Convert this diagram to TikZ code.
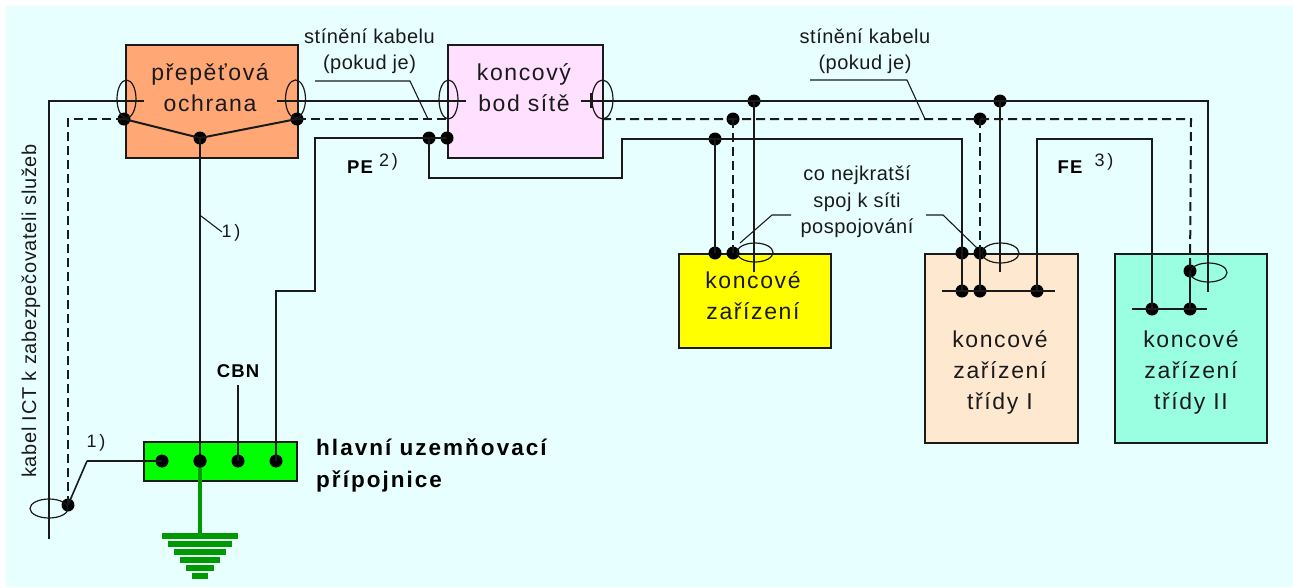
\documentclass[tikz,border=0pt]{standalone}
\usepackage{fontspec}
\setmainfont{Liberation Sans}
\newfontfamily\spfont[LetterSpace=7]{Liberation Sans}
\newfontfamily\smfont[LetterSpace=2.5]{Liberation Sans}
\newfontfamily\vtfont[LetterSpace=3.5]{Liberation Sans}
\newfontfamily\nofont[LetterSpace=15]{Liberation Sans}
\newfontfamily\boldsp[LetterSpace=6]{Liberation Sans Bold}
\newfontfamily\boldwd[LetterSpace=9]{Liberation Sans Bold}
\definecolor{bgc}{HTML}{E8FFFF}
\definecolor{ink}{HTML}{1A1A1A}
\definecolor{orangebox}{HTML}{FFA875}
\definecolor{pinkbox}{HTML}{FFE0FF}
\definecolor{peachbox}{HTML}{FFE8D0}
\definecolor{cyanbox}{HTML}{99FFE0}
\definecolor{yelbox}{RGB}{255,255,0}
\definecolor{grnbox}{RGB}{0,255,0}
\definecolor{gnd}{HTML}{009900}
\tikzset{
 x=1pt,y=-1pt,
 wire/.style={draw=ink,line width=2pt,line join=miter},
 dwire/.style={draw=ink,line width=2pt,dash pattern=on 9pt off 5pt},
 thin wire/.style={draw=ink,line width=1.1pt},
 dot/.style={circle,fill=black,draw=none,inner sep=0pt,minimum size=13pt},
 boxed/.style={draw=ink,line width=2pt,inner sep=0pt,anchor=north west},
 lbl/.style={font=\fontsize{23}{31}\selectfont\spfont,align=center,text=ink,inner sep=0pt},
 slbl/.style={font=\fontsize{20}{26.5}\selectfont\smfont,align=center,text=ink,inner sep=0pt},
 vlbl/.style={font=\fontsize{20}{26}\selectfont\vtfont,text=ink,inner sep=0pt},
 nlbl/.style={font=\fontsize{18}{24}\selectfont\nofont,text=ink,inner sep=0pt},
 blbl/.style={font=\fontsize{18.5}{26}\selectfont\boldsp,text=black,inner sep=0pt},
 bwlbl/.style={font=\fontsize{22.5}{32}\selectfont\boldwd,align=left,text=black,inner sep=0pt},
 shield/.style={draw=ink,line width=1.2pt},
}
\begin{document}
\begin{tikzpicture}
\useasboundingbox (0,0) rectangle (1293,587);
\fill[bgc] (6,6) rectangle (1293,587);
% boxes
\node[boxed,fill=orangebox,minimum width=172pt,minimum height=113pt] (sp) at (125,44) {};
\node[boxed,fill=pinkbox,minimum width=155pt,minimum height=113pt] (nt) at (447,44) {};
\node[boxed,fill=yelbox,minimum width=152pt,minimum height=94pt] (ee) at (678,253) {};
\node[boxed,fill=peachbox,minimum width=153pt,minimum height=189pt] (e1) at (924,253) {};
\node[boxed,fill=cyanbox,minimum width=152pt,minimum height=189pt] (e2) at (1114,253) {};
\node[boxed,fill=grnbox,minimum width=153pt,minimum height=39pt] (bar) at (143,441) {};
% ground
\foreach \yy/\hw in {536/38,543.5/32,551.5/26,559.5/20,567.5/14,575.5/8}{
  \fill[gnd] (200-\hw,\yy-3) rectangle (200+\hw,\yy+3);
}
% labels
\node[lbl] (t1) at (210,88) {přepěťová\\ochrana};
\node[lbl] (t2) at (524,88) {koncový\\bod sítě};
\node[lbl] (t3) at (753,296) {koncové\\zařízení};
\node[lbl] (t4) at (1000,372) {koncové\\zařízení\\třídy I};
\node[lbl] (t5) at (1191,372) {koncové\\zařízení\\třídy II};
\node[slbl] (t6) at (369.5,51) {stínění kabelu\\(pokud je)};
\node[slbl] (t7) at (865,51) {stínění kabelu\\(pokud je)};
\node[slbl] (t8) at (857,202) {co nejkratší\\spoj k síti\\pospojování};
\node[vlbl,rotate=90] (t9) at (31,311) {kabel ICT k zabezpečovateli služeb};
\node[bwlbl,anchor=west] (t10) at (316,465) {hlavní uzemňovací\\přípojnice};
\node[blbl] (t11) at (238,371) {CBN};
\node[blbl] (t12) at (360,167) {PE};
\node[nlbl] (t13) at (388.5,162) {2)};
\node[blbl] (t14) at (1070,167) {FE};
\node[nlbl] (t15) at (1104,162) {3)};
\node[nlbl] (t16) at (231,233) {1)};
\node[nlbl] (t17) at (96,443) {1)};
% junction dots
\node[dot] (a1) at (124,119) {};
\node[dot] (a2) at (297,119) {};
\node[dot] (a3) at (200,138) {};
\node[dot] (b1) at (429,138) {};
\node[dot] (b2) at (447,138) {};
\node[dot] (c1) at (754,101) {};
\node[dot] (c2) at (733,119) {};
\node[dot] (c3) at (715,139) {};
\node[dot] (c4) at (715,253) {};
\node[dot] (c5) at (733,253) {};
\node[dot] (f1) at (1000,101) {};
\node[dot] (f2) at (980,119) {};
\node[dot] (f3) at (962,253) {};
\node[dot] (f4) at (980,253) {};
\node[dot] (f5) at (962,291) {};
\node[dot] (f6) at (980,291) {};
\node[dot] (f7) at (1037,291) {};
\node[dot] (g1) at (1190,271) {};
\node[dot] (g2) at (1152,309) {};
\node[dot] (g3) at (1190,309) {};
\node[dot] (h1) at (162,461) {};
\node[dot] (h2) at (200,461) {};
\node[dot] (h3) at (238,461) {};
\node[dot] (h4) at (276,461) {};
\node[dot] (k1) at (68,505) {};
% free ends and bends
\coordinate (s0) at (49,539);
\coordinate (s1) at (49,101);
\coordinate (s2) at (144,101);
\coordinate (s3) at (277,101);
\coordinate (s4) at (466,101);
\coordinate (s5) at (581,101);
\coordinate (s6) at (1208,101);
\coordinate (s7) at (1208,292);
\coordinate (d1) at (68,119);
\coordinate (d2) at (447,119);
\coordinate (d3) at (602,119);
\coordinate (d4) at (1191,119);
\coordinate (p1) at (315,138);
\coordinate (p2) at (315,291);
\coordinate (p3) at (276,291);
\coordinate (q1) at (429,178);
\coordinate (q2) at (622,178);
\coordinate (q3) at (622,139);
\coordinate (q4) at (962,139);
\coordinate (r1) at (942,291);
\coordinate (r2) at (1055,291);
\coordinate (r3) at (1037,139);
\coordinate (r4) at (1152,139);
\coordinate (u1) at (1132,309);
\coordinate (u2) at (1207,309);
\coordinate (v1) at (754,272);
\coordinate (v2) at (1000,272);
\coordinate (w1) at (238,385);
\coordinate (x1) at (87,461);
% solid lines
\draw[wire] (s0) -- (s1) -- (s2);
\draw[wire] (s3) -- (s4);
\draw[wire] (s5) -- (s6) -- (s7);
\draw[wire] (a1.center) -- (a3.center) -- (a2.center);
\draw[wire] (a3.center) -- (h2.center);
\draw[wire] (h4.center) -- (p3) -- (p2) -- (p1) -- (b2.center);
\draw[wire] (b1.center) -- (q1) -- (q2) -- (q3) -- (q4) -- (f5.center);
\draw[wire] (c3.center) -- (c4.center);
\draw[wire] (c1.center) -- (v1);
\draw[wire] (f1.center) -- (v2);
\draw[wire] (f4.center) -- (f6.center);
\draw[wire] (r1) -- (r2);
\draw[wire] (f7.center) -- (r3) -- (r4) -- (g2.center);
\draw[wire] (u1) -- (u2);
\draw[wire] (g1.center) -- (g3.center);
\draw[wire] (h3.center) -- (w1);
\draw[wire] (h1.center) -- (x1);
\draw[thin wire,line width=1.6pt] (x1) -- (k1.center);
\draw[wire,line width=3pt] (591,93) -- (591,108);
% dashed lines
\draw[dwire] (k1.center) -- (d1) -- (a1.center);
\draw[dwire] (a2.center) -- (d2);
\draw[dwire] (d3) -- (d4) -- (g1.center);
\draw[dwire] (c2.center) -- (c5.center);
\draw[dwire] (f2.center) -- (f4.center);
% earth
\draw[gnd,line width=3.5pt] (h2.center) -- (200,533);
\node[dot] at (h2) {};
% shield ellipses
\draw[shield] (126.5,99) ellipse [x radius=9.5,y radius=19];
\draw[shield] (295.5,99) ellipse [x radius=10,y radius=19];
\draw[shield] (448.5,99.5) ellipse [x radius=9.5,y radius=19.5];
\draw[shield] (602.5,99.5) ellipse [x radius=10.5,y radius=19.5];
\draw[shield] (755,252.5) ellipse [x radius=18,y radius=9.5];
\draw[shield] (1000.5,253) ellipse [x radius=18.5,y radius=10];
\draw[shield] (1208.5,272.5) ellipse [x radius=18.5,y radius=9.5];
\draw[shield] (49,508.5) ellipse [x radius=19,y radius=9.5];
% leaders
\draw[thin wire] (315,81) -- (410,81) -- (428,119);
\draw[thin wire] (810,80) -- (907,80) -- (925,119);
\draw[thin wire] (791,215) -- (772,215) -- (740,243);
\draw[thin wire] (926,215) -- (943,215) -- (977,248);
\draw[thin wire] (201,216) -- (222,232);
\end{tikzpicture}
\end{document}
